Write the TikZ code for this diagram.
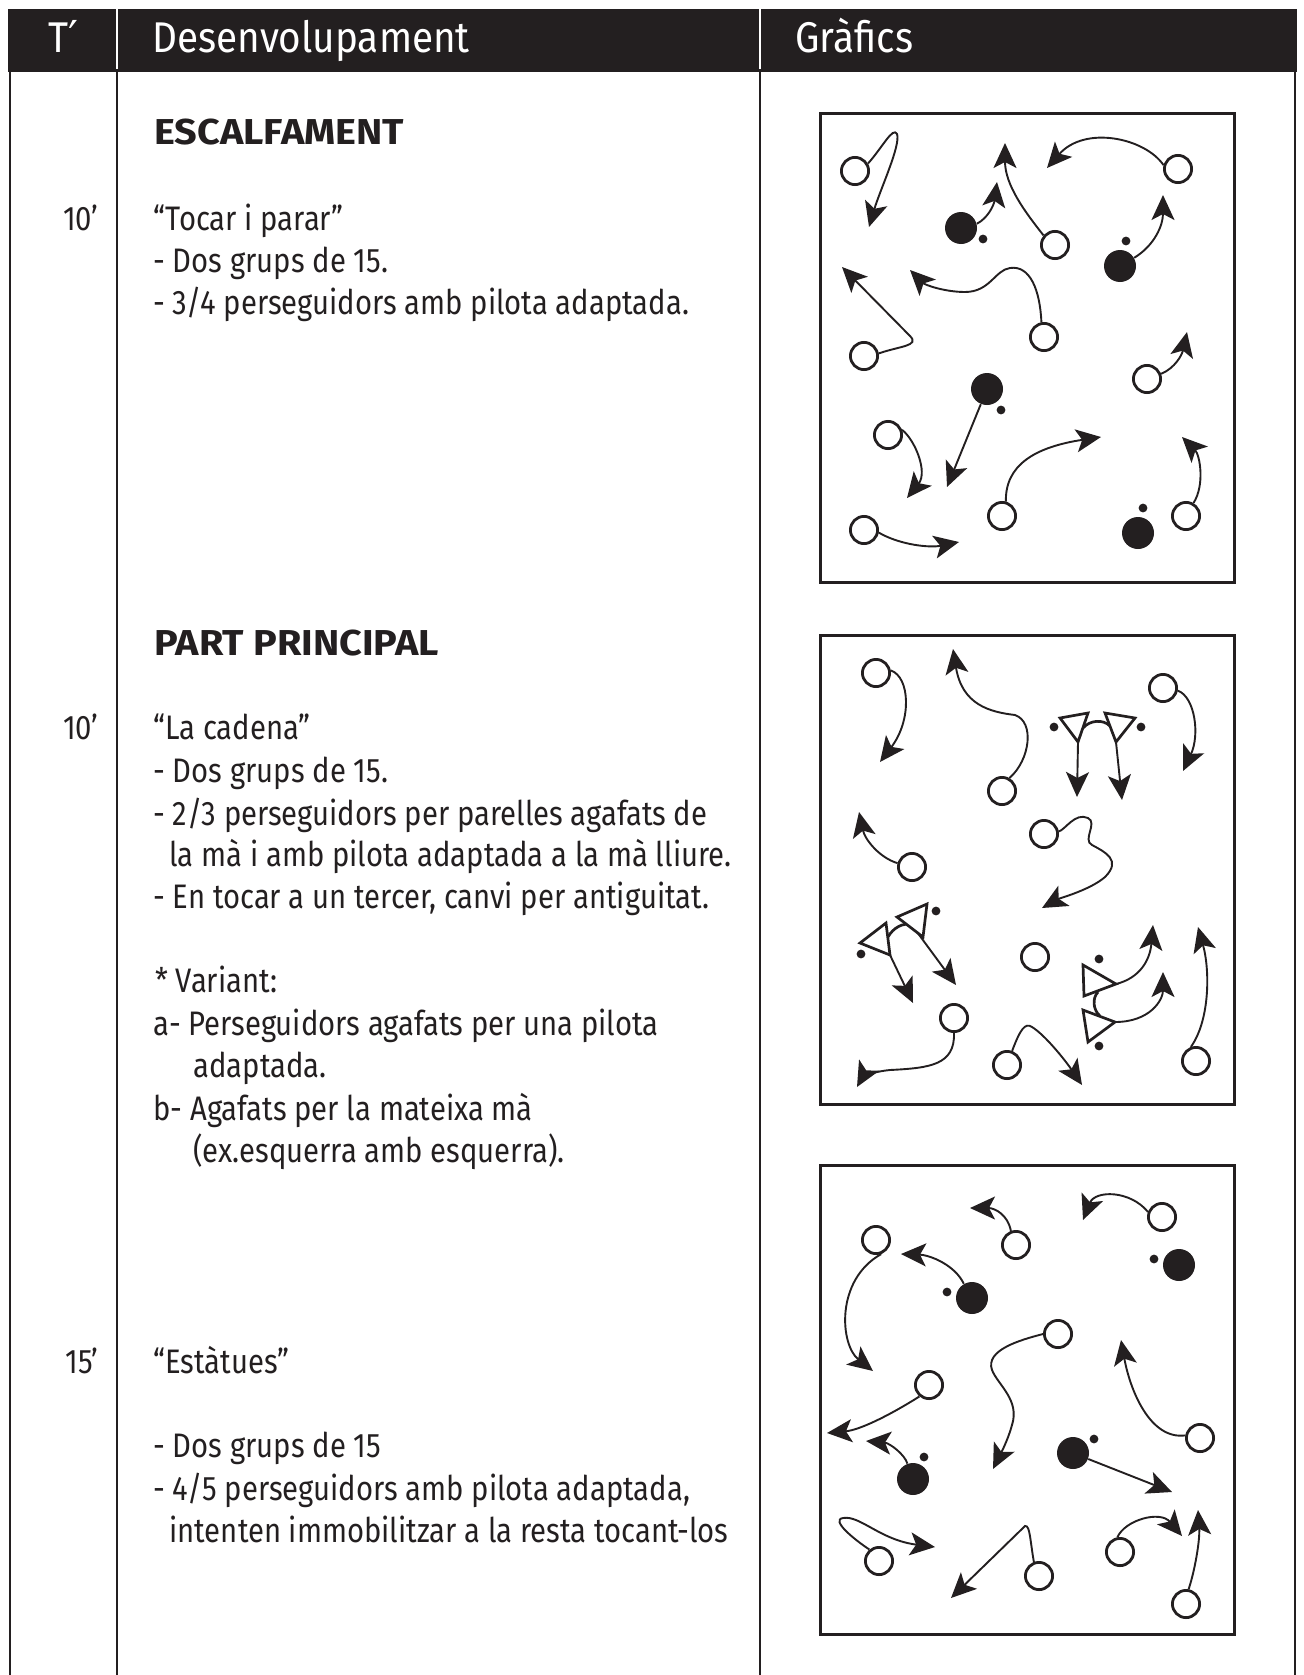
\documentclass[tikz,border=0pt]{standalone}
\usepackage{fontspec}
\setmainfont{Fira Sans}[FakeStretch=0.86]
\newfontfamily\hdfont{Fira Sans}[FakeStretch=0.9]
\newfontfamily\ttlfont{Fira Sans}[FakeStretch=1.1]
\newfontfamily\dejavu{DejaVu Sans}
\usetikzlibrary{arrows.meta}
\definecolor{ink}{RGB}{35,31,32}
\begin{document}
\begin{tikzpicture}[x=0.5pt,y=-0.5pt,
  pl/.style={circle,draw=ink,line width=1.4pt,minimum size=13.6pt,inner sep=0pt,fill=white},
  ch/.style={circle,fill=ink,minimum size=16pt,inner sep=0pt},
  bl/.style={circle,fill=ink,minimum size=4.4pt,inner sep=0pt},
  mv/.style={draw=ink,line width=0.95pt,-{Stealth[length=12.5pt,width=11.5pt,inset=3pt]}},
  field/.style={draw=ink,line width=1.5pt},
  tri/.style={draw=ink,line width=1.35pt,line join=miter,fill=white},
  hold/.style={draw=ink,line width=1.35pt},
  rule/.style={draw=ink,line width=1.2pt},
  hd/.style={anchor=base west,inner sep=0pt,text=white,font=\hdfont\fontsize{21.5pt}{26pt}\selectfont},
  body/.style={anchor=base west,inner sep=0pt,text=ink,font=\fontsize{17pt}{20pt}\selectfont},
  ttl/.style={anchor=base west,inner sep=0pt,text=ink,font=\ttlfont\fontsize{18pt}{21pt}\selectfont\bfseries},
  tm/.style={anchor=base east,inner sep=0pt,text=ink,font=\fontsize{17pt}{20pt}\selectfont}]
\useasboundingbox (0,0) rectangle (1303,1675);
% header
\fill[ink] (8,9) rectangle (1297,72);
\draw[white,line width=0.8pt] (117,9) -- (117,69);
\draw[white,line width=0.8pt] (760,9) -- (760,69);
\node[hd,anchor=base] (hT) at (63,53) {T{\dejavu\fontsize{22pt}{24pt}\selectfont ′}};
\node[hd] (hD) at (152,53) {Desenvolupament};
\node[hd] (hG) at (795,53) {Gràfics};
% column rules
\draw[rule] (10,72) -- (10,1675);
\draw[rule] (117,72) -- (117,1675);
\draw[rule] (760,72) -- (760,1675);
\draw[rule] (1295,72) -- (1295,1675);
% texts
\node[ttl] (t1) at (154,145) {ESCALFAMENT};
\node[tm] (m1) at (99,230) {10'};
\node[body] (t2) at (153,230) {“Tocar i parar”};
\node[body] (t3) at (153,272) {- Dos grups de 15.};
\node[body] (t4) at (153,314) {- 3/4 perseguidors amb pilota adaptada.};
\node[ttl] (t5) at (154,655) {PART PRINCIPAL};
\node[tm] (m2) at (99,739) {10'};
\node[body] (t6) at (153,739) {“La cadena”};
\node[body] (t7) at (153,782) {- Dos grups de 15.};
\node[body] (t8) at (153,825) {- 2/3 perseguidors per parelles agafats de};
\node[body] (t9) at (169,866) {la mà i amb pilota adaptada a la mà lliure.};
\node[body] (t10) at (153,908) {- En tocar a un tercer, canvi per antiguitat.};
\node[body] (t11) at (155,992) {* Variant:};
\node[body] (t12) at (153,1035) {a- Perseguidors agafats per una pilota};
\node[body] (t13) at (193,1077) {adaptada.};
\node[body] (t14) at (153,1120) {b- Agafats per la mateixa mà};
\node[body] (t15) at (193,1162) {(ex.esquerra amb esquerra).};
\node[tm] (m3) at (99,1373) {15'};
\node[body] (t16) at (153,1373) {“Estàtues”};
\node[body] (t17) at (153,1457) {- Dos grups de 15};
\node[body] (t18) at (153,1500) {- 4/5 perseguidors amb pilota adaptada,};
\node[body] (t19) at (169,1542) {intenten immobilitzar a la resta tocant-los};
% fields
\draw[field] (820,114) rectangle (1234,582);
\draw[field] (820,635) rectangle (1234,1104);
\draw[field] (820,1165) rectangle (1234,1634);

% ---------- box 1
\node[pl] (a1) at (855,171) {};
\draw[mv] (a1.30) .. controls (882,148) and (893,126) .. (897,134) .. controls (901,145) and (880,190) .. (869,227);
\node[ch] (a2) at (961,228) {};
\node[bl] (a2b) at (983,239) {};
\draw[mv] (a2.15) .. controls (988,218) and (994,205) .. (997,182);
\node[pl] (a3) at (1055,245) {};
\draw[mv] (a3.140) .. controls (1025,212) and (1005,185) .. (1005,143);
\node[pl] (a4) at (1178,169) {};
\draw[mv] (a4.165) .. controls (1145,138) and (1085,125) .. (1047,168);
\node[ch] (a5) at (1120,266) {};
\node[bl] (a5b) at (1126,241) {};
\draw[mv] (a5.30) .. controls (1155,245) and (1163,225) .. (1163,195);
\node[pl] (a6) at (864,356) {};
\draw[mv] (a6.10) .. controls (900,346) and (920,346) .. (910,336) -- (842,267);
\node[pl] (a7) at (1044,337) {};
\draw[mv] (a7.100) .. controls (1040,290) and (1030,265) .. (1010,268) .. controls (995,270) and (990,292) .. (965,292) .. controls (945,292) and (925,285) .. (910,270);
\node[pl] (a8) at (1147,379) {};
\draw[mv] (a8.20) .. controls (1175,368) and (1182,355) .. (1187,332);
\node[ch] (a9) at (987,389) {};
\node[bl] (a9b) at (1001,410) {};
\draw[mv] (a9) -- (947,487);
\node[pl] (a10) at (888,435) {};
\draw[mv] (a10.20) .. controls (915,440) and (928,472) .. (907,498);
\node[pl] (a11) at (1002,516) {};
\draw[mv] (a11.75) .. controls (1005,465) and (1035,447) .. (1101,437);
\node[pl] (a12) at (1186,516) {};
\draw[mv] (a12.60) .. controls (1205,485) and (1200,455) .. (1182,437);
\node[ch] (a13) at (1138,533) {};
\node[bl] (a13b) at (1143,508) {};
\node[pl] (a14) at (864,530) {};
\draw[mv] (a14.-10) .. controls (900,545) and (930,548) .. (959,542);

% ---------- box 2
\node[pl] (b1) at (876,673) {};
\draw[mv] (b1.10) .. controls (910,677) and (912,720) .. (880,762);
\node[pl] (b2) at (1002,791) {};
\draw[mv] (b2.60) .. controls (1030,760) and (1035,722) .. (1015,715) .. controls (990,712) and (962,705) .. (953,649);
% pair top
\draw[hold] (1083,728) .. controls (1090,720) and (1103,719) .. (1110,726);
\draw[tri] (1060,718) -- (1088,713) -- (1078,742) -- cycle;
\draw[tri] (1105,713) -- (1135,718) -- (1116,742) -- cycle;
\coordinate (p1) at (1078,742);
\coordinate (p2) at (1116,742);
\node[bl] (p1b) at (1054,727) {};
\node[bl] (p2b) at (1141,727) {};
\draw[mv] (p1) -- (1077,797);
\draw[mv] (p2) -- (1122,800);
\node[pl] (b4) at (1163,688) {};
\draw[mv] (b4.-10) .. controls (1195,697) and (1200,735) .. (1183,771);
\node[pl] (b5) at (912,867) {};
\draw[mv] (b5.165) .. controls (880,858) and (865,840) .. (859,812);
\node[pl] (b6) at (1044,834) {};
\draw[mv] (b6.10) .. controls (1065,830) and (1075,812) .. (1088,818) .. controls (1098,823) and (1082,840) .. (1092,845) .. controls (1105,852) and (1122,860) .. (1105,877) .. controls (1090,890) and (1060,898) .. (1042,908);
% pair left
\draw[hold] (888,937) .. controls (893,928) and (903,922) .. (912,925);
\draw[tri] (860,943) -- (886,923) -- (890,955) -- cycle;
\draw[tri] (897,917) -- (927,904) -- (923,937) -- cycle;
\coordinate (p3) at (890,955);
\coordinate (p4) at (917,932);
\node[bl] (p3b) at (861,954) {};
\node[bl] (p4b) at (936,911) {};
\draw[mv] (p3) -- (913,1003);
\draw[mv] (p4) -- (956,985);
\node[pl] (b8) at (1035,957) {};
% pair right
\draw[hold] (1098,992) .. controls (1092,998) and (1093,1010) .. (1100,1016);
\draw[tri] (1083,965) -- (1116,984) -- (1084,996) -- cycle;
\draw[tri] (1083,1010) -- (1115,1022) -- (1088,1042) -- cycle;
\coordinate (p5) at (1116,984);
\coordinate (p6) at (1115,1022);
\node[bl] (p5b) at (1099,959) {};
\node[bl] (p6b) at (1099,1046) {};
\draw[mv] (p5) .. controls (1140,978) and (1150,960) .. (1153,925);
\draw[mv] (p6) .. controls (1150,1022) and (1163,1000) .. (1163,972);
\node[pl] (b10) at (954,1018) {};
\draw[mv] (b10.south) .. controls (955,1065) and (930,1068) .. (890,1070) .. controls (870,1072) and (862,1078) .. (857,1087);
\node[pl] (b11) at (1007,1065) {};
\draw[mv] (b11.70) .. controls (1020,1030) and (1025,1022) .. (1032,1027) .. controls (1045,1035) and (1065,1060) .. (1082,1085);
\node[pl] (b12) at (1196,1061) {};
\draw[mv] (b12.110) .. controls (1210,1020) and (1210,970) .. (1198,927);

% ---------- box 3
\node[pl] (c1) at (1016,1245) {};
\draw[mv] (c1.110) .. controls (1008,1215) and (995,1208) .. (970,1208);
\node[pl] (c2) at (1162,1217) {};
\draw[mv] (c2.160) .. controls (1130,1190) and (1095,1190) .. (1083,1220);
\node[pl] (c3) at (876,1240) {};
\draw[mv] (c3.-70) .. controls (835,1280) and (840,1345) .. (873,1371);
\node[ch] (c4) at (972,1298) {};
\node[bl] (c4b) at (947,1292) {};
\draw[mv] (c4.120) .. controls (955,1265) and (930,1255) .. (901,1254);
\node[pl] (c5) at (929,1385) {};
\draw[mv] (c5.-130) .. controls (890,1415) and (860,1430) .. (827,1433);
\node[ch] (c6) at (1179,1265) {};
\node[bl] (c6b) at (1154,1259) {};
\node[pl] (c7) at (1058,1334) {};
\draw[mv] (c7.180) .. controls (1020,1340) and (985,1350) .. (992,1370) .. controls (998,1385) and (1020,1400) .. (1012,1425) .. controls (1008,1440) and (1000,1455) .. (993,1469);
\node[pl] (c8) at (1200,1438) {};
\draw[mv] (c8.170) .. controls (1150,1440) and (1130,1390) .. (1121,1340);
\node[ch] (c9) at (913,1479) {};
\node[bl] (c9b) at (924,1457) {};
\draw[mv] (c9.110) .. controls (905,1455) and (890,1443) .. (866,1441);
\node[ch] (c10) at (1073,1453) {};
\node[bl] (c10b) at (1094,1439) {};
\draw[mv] (c10) -- (1172,1492);
\node[pl] (c11) at (879,1561) {};
\draw[mv] (c11.130) .. controls (855,1540) and (830,1520) .. (843,1518) .. controls (860,1515) and (880,1540) .. (935,1547);
\node[pl] (c12) at (1039,1576) {};
\draw[mv] (c12.110) .. controls (1030,1540) and (1030,1525) .. (1025,1526) -- (951,1598);
\node[pl] (c13) at (1120,1552) {};
\draw[mv] (c13.100) .. controls (1125,1520) and (1160,1510) .. (1182,1536);
\node[pl] (c14) at (1186,1604) {};
\draw[mv] (c14.80) .. controls (1195,1570) and (1200,1540) .. (1198,1510);
\end{tikzpicture}
\end{document}
